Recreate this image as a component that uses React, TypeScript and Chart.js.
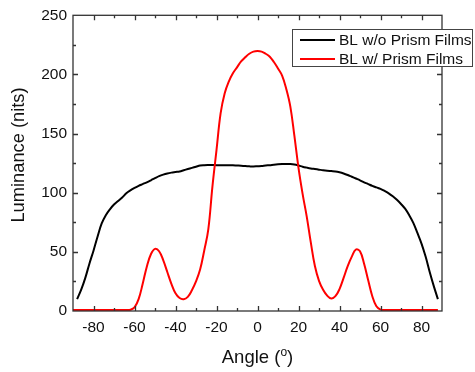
import React, { useEffect, useRef } from "react";
import { Chart, registerables } from "chart.js";

Chart.register(...registerables);

const angles = [
  -90, -88, -86, -84, -82, -80, -78, -76, -74, -72,
  -70, -68, -66, -64, -62, -60, -58, -56, -54, -52,
  -50, -48, -46, -44, -42, -40, -38, -36, -34, -32,
  -30, -28, -26, -24, -22, -20, -18, -16, -14, -12,
  -10, -8, -6, -4, -2, 0, 2, 4, 6, 8,
  10, 12, 14, 16, 18, 20, 22, 24, 26, 28,
  30, 32, 34, 36, 38, 40, 42, 44, 46, 48,
  50, 52, 54, 56, 58, 60, 62, 64, 66, 68,
  70, 72, 74, 76, 78, 80, 82, 84, 86, 88,
];

const blWithoutPrism = [
  null, 10, 18, 28, 40, 51, 63, 74, 81, 86,
  90, 93, 96, 99.5, 102, 104, 105.8, 107.3, 108.8, 110.5,
  112.3, 114, 115.3, 116.3, 117, 117.5, 118, 119, 120, 121,
  122, 123, 123.3, 123.4, 123.4, 123.3, 123.3, 123.3, 123.3, 123.2,
  123, 122.8, 122.5, 122.3, 122.2, 122.4, 122.6, 123, 123.3, 123.7,
  124, 124.2, 124.3, 124.2, 123.8, 123, 122, 121.2, 120.5, 120,
  119.5, 119, 118.6, 118.3, 118, 117.3, 116.3, 115, 113.5, 112,
  110.5, 108.8, 107.3, 105.8, 104.5, 103.3, 101.5, 99.5, 97, 94,
  90.5, 86.5, 81, 74.5, 66, 57, 46, 33, 21, 10,
];

const blWithPrism = [
  0.8, 0.8, 0.8, 0.8, 0.8, 0.8, 0.8, 0.8, 0.8, 0.8,
  0.8, 0.8, 0.8, 0.8, 1, 3, 10, 23, 37.5, 48,
  52.5, 50.5, 43, 33, 23, 15, 11, 10, 12, 17.5,
  25, 35, 51, 69, 105, 136, 167, 184, 194, 201,
  206, 211, 214.5, 217.5, 219.3, 219.8, 219.3, 217.5, 215, 210.5,
  205, 199, 188, 173, 148, 121, 99, 80, 58, 38,
  25.5, 18, 13, 10.5, 12.5, 18.5, 28, 38, 46, 52,
  50.5, 40, 26, 12.5, 4, 1.2, 0.8, 0.8, 0.8, 0.8,
  0.8, 0.8, 0.8, 0.8, 0.8, 0.8, 0.8, 0.8, 0.8, 0.8,
];

const xTickValues = [-80, -60, -40, -20, 0, 20, 40, 60, 80];
const yTickValues = [0, 50, 100, 150, 200, 250];
const seriesLabels = ["BL w/o Prism Films", "BL w/ Prism Films"];
const seriesColors = ["#000000", "#ff0000"];
const xTitleMain = "Angle (";
const xTitleSup = "o";
const xTitleEnd = ")";
const yTitle = "Luminance (nits)";

const FONT = "Arial, 'Liberation Sans', Helvetica, sans-serif";

const framePlugin = {
  id: "frameTicks",
  afterDatasetsDraw(chart: any) {
    const { ctx, chartArea } = chart;
    const { left, right, top, bottom } = chartArea;
    const xs = chart.scales.x;
    const ys = chart.scales.y;
    ctx.save();
    ctx.strokeStyle = "#333333";
    ctx.lineWidth = 1.3;
    ctx.strokeRect(left, top, right - left, bottom - top);
    const major = 5;
    const minor = 3;
    ctx.beginPath();
    const xStep = xTickValues[1] - xTickValues[0];
    const xVals: [number, number][] = [];
    xTickValues.forEach((v) => xVals.push([v, major]));
    xTickValues.forEach((v, i) => {
      if (i === 0) xVals.push([v - xStep / 2, minor]);
      xVals.push([v + xStep / 2, minor]);
    });
    xVals.forEach(([v, len]) => {
      if (v <= xs.min || v >= xs.max) return;
      const px = Math.round(xs.getPixelForValue(v)) + 0.5;
      ctx.moveTo(px, bottom);
      ctx.lineTo(px, bottom - len);
      ctx.moveTo(px, top);
      ctx.lineTo(px, top + len);
    });
    const yStep = yTickValues[1] - yTickValues[0];
    const yVals: [number, number][] = [];
    yTickValues.forEach((v) => yVals.push([v, major]));
    yTickValues.forEach((v) => yVals.push([v + yStep / 2, minor]));
    yVals.forEach(([v, len]) => {
      if (v <= ys.min || v >= ys.max) return;
      const py = Math.round(ys.getPixelForValue(v)) + 0.5;
      ctx.moveTo(left, py);
      ctx.lineTo(left + len, py);
      ctx.moveTo(right, py);
      ctx.lineTo(right - len, py);
    });
    ctx.stroke();
    ctx.restore();
  },
  afterDraw(chart: any) {
    const { ctx, chartArea } = chart;
    ctx.save();
    // axis titles
    ctx.fillStyle = "#111111";
    ctx.textBaseline = "alphabetic";
    ctx.font = `18.5px ${FONT}`;
    const wMain = ctx.measureText(xTitleMain).width;
    const wEnd = ctx.measureText(xTitleEnd).width;
    ctx.font = `12px ${FONT}`;
    const wSup = ctx.measureText(xTitleSup).width;
    const total = wMain + wSup + wEnd;
    const cx = (chartArea.left + chartArea.right) / 2;
    let tx = cx - total / 2;
    const baseY = 363;
    ctx.textAlign = "left";
    ctx.font = `18.5px ${FONT}`;
    ctx.fillText(xTitleMain, tx, baseY);
    tx += wMain;
    ctx.font = `12px ${FONT}`;
    ctx.fillText(xTitleSup, tx, baseY - 7);
    tx += wSup;
    ctx.font = `18.5px ${FONT}`;
    ctx.fillText(xTitleEnd, tx, baseY);

    ctx.save();
    ctx.translate(24, 155);
    ctx.rotate(-Math.PI / 2);
    ctx.textAlign = "center";
    ctx.font = `18.3px ${FONT}`;
    ctx.fillText(yTitle, 0, 0);
    ctx.restore();

    // legend
    const bx = 292.5;
    const by = 29.5;
    const bw = 180;
    const bh = 37;
    ctx.fillStyle = "#ffffff";
    ctx.fillRect(bx, by, bw, bh);
    ctx.strokeStyle = "#444444";
    ctx.lineWidth = 1;
    ctx.strokeRect(bx, by, bw, bh);
    ctx.font = `15.5px ${FONT}`;
    ctx.textBaseline = "middle";
    ctx.textAlign = "left";
    const rows = [40, 59];
    chart.data.datasets.forEach((ds: any, i: number) => {
      const y = rows[i];
      ctx.strokeStyle = ds.borderColor;
      ctx.lineWidth = 2;
      ctx.beginPath();
      ctx.moveTo(300, y);
      ctx.lineTo(335, y);
      ctx.stroke();
      ctx.fillStyle = "#111111";
      ctx.fillText(ds.label, 339, y + 0.5);
    });
    ctx.restore();
  },
};

export default function App() {
  const canvasRef = useRef<HTMLCanvasElement | null>(null);

  useEffect(() => {
    const canvas = canvasRef.current;
    if (!canvas) return;
    const seriesValues = [blWithoutPrism, blWithPrism];
    const chart = new Chart(canvas, {
      type: "line",
      data: {
        datasets: seriesValues.map((vals, i) => ({
          label: seriesLabels[i],
          data: angles.map((a, j) => ({ x: a, y: vals[j] })),
          borderColor: seriesColors[i],
          backgroundColor: seriesColors[i],
          borderWidth: 2,
          pointRadius: 0,
          tension: 0.4,
          fill: false,
          order: i === 0 ? 1 : 0,
        })),
      },
      options: {
        animation: false,
        responsive: false,
        maintainAspectRatio: false,
        layout: { padding: { left: 0, top: 14, right: 33, bottom: 0 } },
        plugins: {
          legend: { display: false },
          tooltip: { enabled: false },
        },
        scales: {
          x: {
            type: "linear",
            min: -90,
            max: 90,
            afterBuildTicks: (scale: any) => {
              scale.ticks = xTickValues.map((v) => ({ value: v }));
            },
            afterFit: (scale: any) => {
              scale.height = 61;
            },
            grid: { display: false, drawTicks: false },
            border: { display: false },
            ticks: {
              padding: 7,
              color: "#111111",
              font: { family: FONT, size: 15.5 },
              maxRotation: 0,
              autoSkip: false,
            },
          },
          y: {
            type: "linear",
            min: 0,
            max: 250,
            afterBuildTicks: (scale: any) => {
              scale.ticks = yTickValues.map((v) => ({ value: v }));
            },
            afterFit: (scale: any) => {
              scale.width = 73;
            },
            grid: { display: false, drawTicks: false },
            border: { display: false },
            ticks: {
              padding: 6,
              color: "#111111",
              font: { family: FONT, size: 15.5 },
              autoSkip: false,
            },
          },
        },
      },
      plugins: [framePlugin],
    });
    return () => chart.destroy();
  }, []);

  return (
    <div style={{ position: "fixed", left: 0, top: 0, width: 475, height: 372, background: "#ffffff" }}>
      <canvas ref={canvasRef} width={475} height={372} style={{ display: "block" }} />
    </div>
  );
}
